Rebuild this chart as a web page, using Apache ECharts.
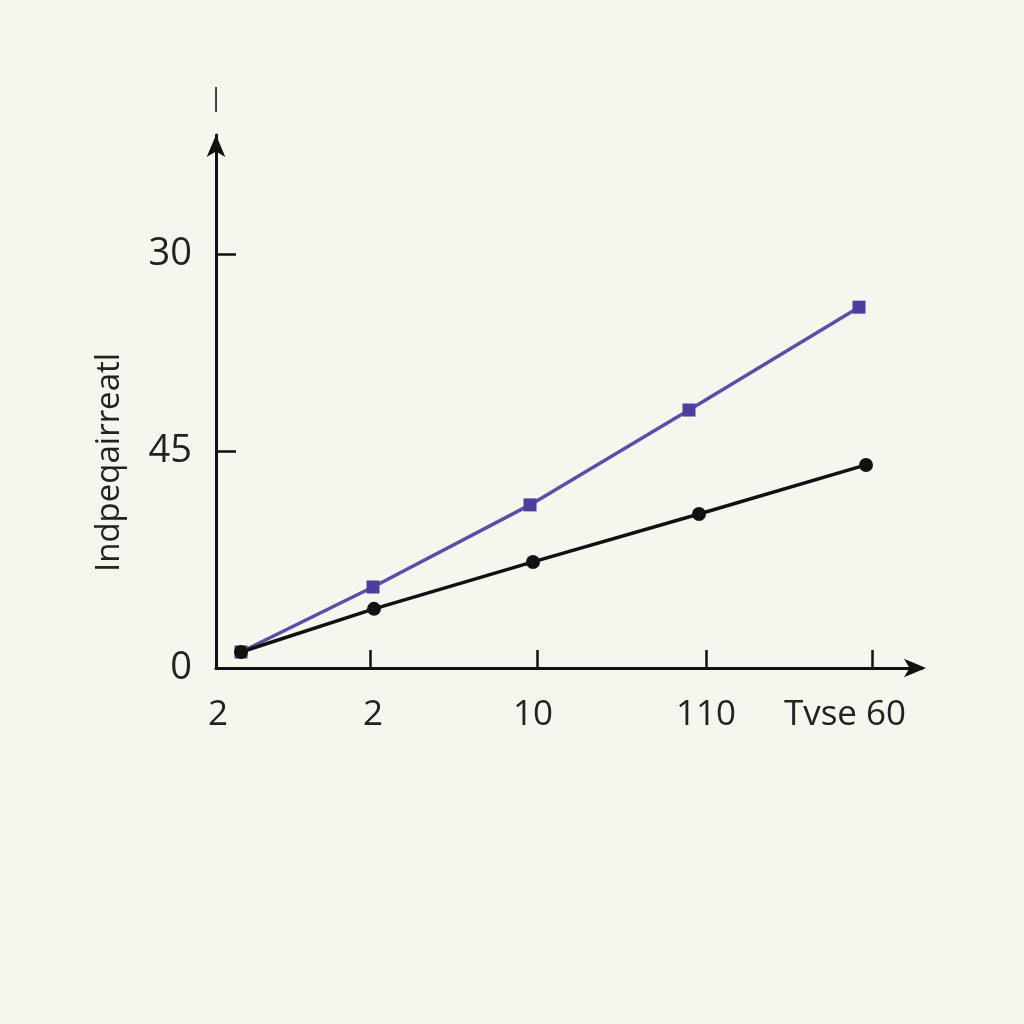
<!DOCTYPE html>
<html>
<head>
<meta charset="utf-8">
<script src="https://cdn.jsdelivr.net/npm/echarts@6/dist/echarts.min.js"></script>
<style>
html,body{margin:0;padding:0;background:#f6f5ee;}
#chart{width:1024px;height:1024px;}
</style>
</head>
<body>
<div id="chart"></div>
<script>
// Data (arbitrary units on both axes)
var blackX = [2.5, 15.8, 31.7, 48.3, 65.0];
var blackY = [3.0, 11.1, 19.9, 28.9, 38.1];
var purpleX = [2.5, 15.7, 31.4, 47.3, 64.3];
var purpleY = [3.0, 15.2, 30.6, 48.4, 67.7];

var xTickValues = [15.4, 32.1, 49.0, 65.6];
var xLabelValues = [0.2, 15.7, 31.7, 49.0, 62.9];
var xLabelTexts = ['2', '2', '10', '110', 'Tvse 60'];

var yTickValues = [0, 40.7, 77.7];
var yLabelTexts = ['0', '45', '30'];

var yTitle = 'Indpeqairreatl';
var yAxisName = 'I';

function zip(xs, ys) { return xs.map(function (x, i) { return [x, ys[i]]; }); }

var chart = echarts.init(document.getElementById('chart'));
var font = '"Open Sans", "Noto Sans", sans-serif';
chart.setOption({
  backgroundColor: '#f6f5ee',
  animation: false,
  grid: { left: 216, right: 102, top: 135, bottom: 356 },
  xAxis: {
    type: 'value', min: 0, max: 70.6,
    splitLine: { show: false },
    axisLine: { show: true, lineStyle: { color: '#111', width: 3 }, symbol: ['none', 'arrow'], symbolSize: [14, 22], symbolOffset: [0, 4] },
    axisTick: { show: true, inside: true, length: 18, lineStyle: { color: '#111', width: 2.5 }, customValues: xTickValues },
    axisLabel: {
      show: true, color: '#222', fontFamily: font, fontSize: 35, margin: 30,
      customValues: xLabelValues,
      formatter: function (v) {
        for (var i = 0; i < xLabelValues.length; i++) if (Math.abs(xLabelValues[i] - v) < 1e-6) return xLabelTexts[i];
        return '';
      }
    }
  },
  yAxis: [{
    type: 'value', min: 0, max: 100,
    name: yAxisName, nameLocation: 'end', nameGap: 16,
    nameTextStyle: { color: '#222', fontFamily: font, fontSize: 34, fontWeight: 300 },
    splitLine: { show: false },
    axisLine: { show: true, lineStyle: { color: '#111', width: 3 }, symbol: ['none', 'arrow'], symbolSize: [14, 22] },
    axisTick: { show: true, inside: true, length: 20, lineStyle: { color: '#111', width: 2.5 }, customValues: yTickValues.slice(1) },
    axisLabel: {
      show: true, color: '#222', fontFamily: font, fontSize: 38, margin: 24,
      customValues: yTickValues,
      formatter: function (v) {
        for (var i = 0; i < yTickValues.length; i++) if (Math.abs(yTickValues[i] - v) < 1e-6) return yLabelTexts[i];
        return '';
      }
    }
  }, {
    type: 'value', position: 'left', offset: 0, min: 0, max: 100,
    name: yTitle, nameLocation: 'middle', nameGap: 90, nameRotate: 90,
    nameTextStyle: { color: '#222', fontFamily: font, fontSize: 33, padding: [0, 122, 0, 0] },
    axisLine: { show: false }, axisTick: { show: false }, axisLabel: { show: false }, splitLine: { show: false }
  }],
  series: [
    {
      type: 'line', data: zip(purpleX, purpleY),
      lineStyle: { color: '#5850a8', width: 3.5 },
      itemStyle: { color: '#4a3f9e' },
      symbol: 'rect', symbolSize: 13, showAllSymbol: true
    },
    {
      type: 'line', data: zip(blackX, blackY),
      lineStyle: { color: '#111', width: 3.5 },
      itemStyle: { color: '#111' },
      symbol: 'circle', symbolSize: 14, showAllSymbol: true
    }
  ]
});
</script>
</body>
</html>
